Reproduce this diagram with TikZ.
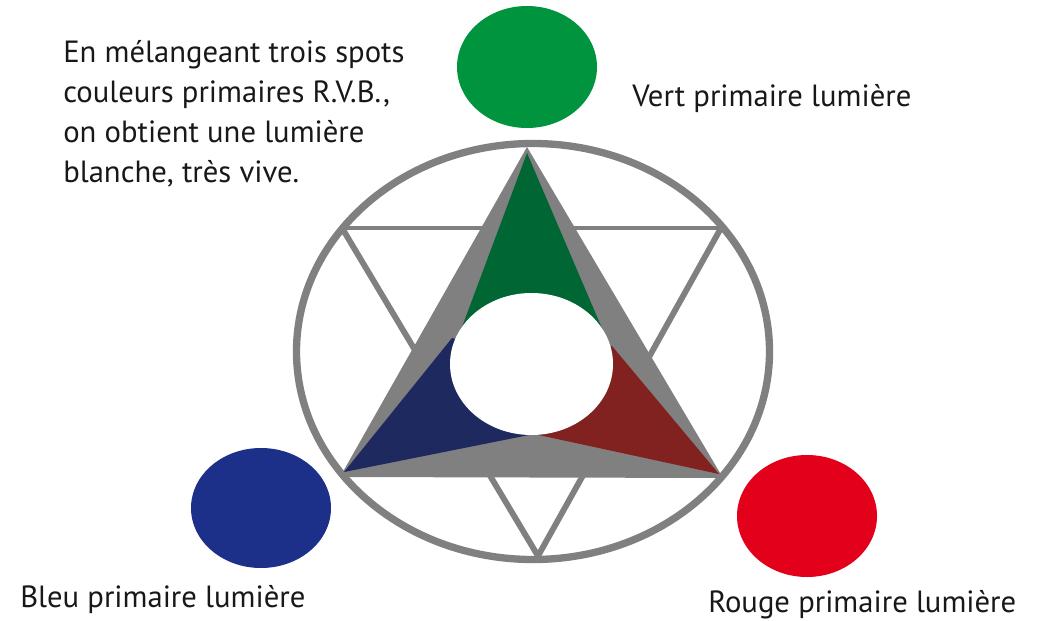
\documentclass[tikz,border=0pt]{standalone}
\usepackage{fontspec}
\setmainfont{PT Sans}
\begin{document}
\begin{tikzpicture}[x=0.75pt,y=-0.75pt,
  lbl/.style={inner sep=0pt, text=txt, font=\fontsize{23}{30}\selectfont},
  thinline/.style={draw=frame, line width=4.4pt},
  hline/.style={draw=frame, line width=3pt}]
\definecolor{frame}{RGB}{128,128,128}
\definecolor{txt}{RGB}{25,23,23}
\definecolor{spotgreen}{RGB}{0,148,62}
\definecolor{spotblue}{RGB}{28,48,138}
\definecolor{spotred}{RGB}{226,0,26}
\definecolor{wgreen}{RGB}{0,102,51}
\definecolor{wblue}{RGB}{30,42,95}
\definecolor{wred}{RGB}{130,34,32}
\useasboundingbox (0,0) rectangle (1044,620);
% coloured spots
\fill[spotgreen] (527,67) ellipse [x radius=70, y radius=61];
\fill[spotblue] (261,508) ellipse [x radius=70, y radius=60];
\fill[spotred] (807,516) ellipse [x radius=70, y radius=61];
\coordinate (gspot) at (527,67);
\coordinate (bspot) at (261,508);
\coordinate (rspot) at (807,516);
% outer ring
\draw[frame, line width=5.5pt] (533,351.5) ellipse [x radius=236.5, y radius=208];
% inverted triangle
\coordinate (it1) at (342,228);
\coordinate (it2) at (721,228);
\coordinate (it3) at (538,556);
\draw[hline] (it1) -- (it2);
\draw[thinline] (it1) -- (it3) -- (it2);
% gray triangle
\coordinate (ta) at (527,147);
\coordinate (tl) at (340,477);
\coordinate (tr) at (723,478);
\fill[frame] (ta) -- (tl) -- (tr) -- cycle;
% wedges
\coordinate (c) at (531,364);
\coordinate (m) at (534,434);
\fill[wgreen] (527,153) -- (456,343) -- (c) -- (604,333) -- cycle;
\fill[wblue] (344,472) -- (452,338) -- (c) -- (m) -- cycle;
\fill[wred] (719,474) -- (612,346) -- (c) -- (m) -- cycle;
% white centre
\fill[white] (531.5,364) ellipse [x radius=81.5, y radius=71];
% texts
\node[lbl, anchor=base west, align=left] (para) at (63,183) {En mélangeant trois spots\\couleurs primaires R.V.B.,\\on obtient une lumière\\blanche, très vive.};
\node[lbl, anchor=base west] (vert) at (632,107) {Vert primaire lumière};
\node[lbl, anchor=base west] (bleu) at (20,607) {Bleu primaire lumière};
\node[lbl, anchor=base west] (rouge) at (708,612) {Rouge primaire lumière};
\end{tikzpicture}
\end{document}
